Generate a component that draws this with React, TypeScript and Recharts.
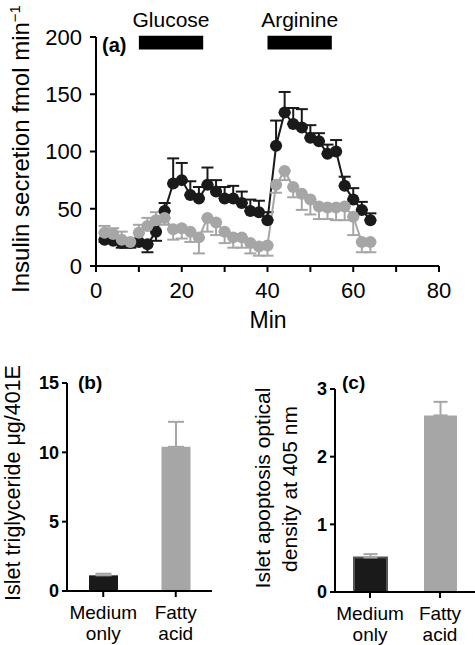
import {
  LineChart,
  Line,
  BarChart,
  Bar,
  Cell,
  XAxis,
  YAxis,
  ErrorBar,
  ReferenceArea,
} from 'recharts'

// (a) perifusion time course, sampled every 2 min
const minutes = [2, 4, 6, 8, 10, 12, 14, 16, 18, 20, 22, 24, 26, 28, 30, 32, 34, 36, 38, 40, 42, 44, 46, 48, 50, 52, 54, 56, 58, 60, 62, 64]
const mediumMean = [23, 22, 20, 20, 21, 19, 30, 48, 72, 75, 62, 59, 71, 65, 59, 59, 55, 48, 47, 40, 105, 134, 124, 121, 112, 109, 98, 100, 70, 58, 49, 40]
// [below, above] the mean
const mediumErr = [
  [2, 0], [2, 0], [4, 0], [4, 0], [2, 0], [7, 0], [8, 0], [0, 7], [0, 22], [0, 15], [0, 12], [0, 10], [0, 15], [0, 10], [0, 10], [0, 11],
  [0, 10], [0, 10], [0, 10], [0, 7], [0, 22], [0, 18], [0, 14], [0, 16], [0, 11], [0, 7], [0, 8], [0, 10], [0, 8], [0, 10], [0, 7], [0, 6],
]
const fattyMean = [29, 28, 23, 21, 29, 35, 40, 42, 32, 33, 30, 25, 42, 38, 30, 25, 25, 20, 17, 18, 71, 83, 69, 63, 58, 52, 51, 51, 52, 43, 21, 21]
const fattyErr = [
  [0, 6], [0, 5], [0, 7], [0, 0], [0, 7], [0, 7], [0, 7], [6, 0], [9, 0], [9, 0], [9, 0], [14, 0], [12, 0], [11, 0], [10, 0], [9, 0],
  [9, 0], [9, 0], [8, 0], [9, 0], [7, 0], [8, 0], [9, 0], [14, 0], [13, 0], [11, 0], [10, 0], [11, 0], [12, 0], [16, 0], [9, 0], [9, 0],
]
const minTicks = [0, 10, 20, 30, 40, 50, 60, 70, 80]
const insulinTicks = [0, 50, 100, 150, 200]

const treatments = ['Glucose', 'Arginine']
const treatmentStart = [10, 40]
const treatmentEnd = [25, 55]

// (b) and (c)
const groups = ['Medium only', 'Fatty acid']
const triglyceride = [1.13, 10.4]
const triglycerideErr = [0.12, 1.8]
const trigTicks = [0, 5, 10, 15]
const apoptosis = [0.51, 2.61]
const apoptosisErr = [0.05, 0.2]
const apoptosisTicks = [0, 1, 2, 3]

const FONT = "'Liberation Sans', Arial, Helvetica, sans-serif"
const BLACK = '#1a1a1a'
const GREY = '#a6a6a6'
const axisStyle = { stroke: '#000', strokeWidth: 2 }

function GroupTick({ x, y, payload }: any) {
  const [first, second] = String(payload.value).split(' ')
  return (
    <g>
      <text x={x} y={y + 20} textAnchor="middle" fontSize={19} fill="#000">{first}</text>
      <text x={x} y={y + 41} textAnchor="middle" fontSize={19} fill="#000">{second}</text>
    </g>
  )
}

export default function App() {
  const timeData = minutes.map((m, i) => ({
    min: m,
    medium: mediumMean[i],
    mediumErr: mediumErr[i],
    fatty: fattyMean[i],
    fattyErr: fattyErr[i],
  }))
  const trigData = groups.map((g, i) => ({ group: g, value: triglyceride[i], err: [0, triglycerideErr[i]] }))
  const apopData = groups.map((g, i) => ({ group: g, value: apoptosis[i], err: [0, apoptosisErr[i]] }))

  return (
    <div style={{ position: 'absolute', left: 0, top: 0, width: 475, height: 645, background: '#fff', fontFamily: FONT }}>
      <div style={{ position: 'absolute', left: 0, top: 0 }}>
        <LineChart width={475} height={340} data={timeData} margin={{ top: 37, right: 36, bottom: 0, left: 0 }}>
          <XAxis
            type="number"
            dataKey="min"
            domain={[0, 80]}
            ticks={minTicks}
            interval={0}
            height={74}
            tickFormatter={(v: number) => (v % 20 === 0 ? String(v) : '')}
            tick={{ fontSize: 22, fill: '#000' }}
            tickSize={6}
            tickMargin={10}
            axisLine={axisStyle}
            tickLine={axisStyle}
            label={() => (
              <text x={268} y={328} textAnchor="middle" fontSize={23} fill="#000">Min</text>
            )}
          />
          <YAxis
            domain={[0, 200]}
            ticks={insulinTicks}
            interval={0}
            width={96}
            tick={{ fontSize: 22, fill: '#000' }}
            tickSize={6}
            tickMargin={8}
            axisLine={axisStyle}
            tickLine={axisStyle}
            label={() => (
              <g>
                <text transform="rotate(-90)" x={-149} y={29} textAnchor="middle" fontSize={24} fill="#000">
                  Insulin secretion fmol min<tspan dy={-9} fontSize={15}>−1</tspan>
                </text>
                <text x={102} y={52} fontSize={20} fontWeight="bold" fill="#000">(a)</text>
              </g>
            )}
          />
          {treatments.map((t, i) => (
            <ReferenceArea
              key={t}
              x1={treatmentStart[i]}
              x2={treatmentEnd[i]}
              y1={189}
              y2={201}
              ifOverflow="visible"
              fill="#000"
              fillOpacity={1}
              stroke="none"
              label={{ value: t, position: 'top', offset: 9, fontSize: 21, fill: '#000' }}
            />
          ))}
          <Line
            dataKey="medium"
            stroke={BLACK}
            strokeWidth={2}
            dot={{ r: 6, fill: BLACK, stroke: 'none' }}
            activeDot={false}
            isAnimationActive={false}
          >
            <ErrorBar dataKey="mediumErr" direction="y" width={6} strokeWidth={2} stroke={BLACK} />
          </Line>
          <Line
            dataKey="fatty"
            stroke={GREY}
            strokeWidth={2}
            dot={{ r: 6, fill: GREY, stroke: 'none' }}
            activeDot={false}
            isAnimationActive={false}
          >
            <ErrorBar dataKey="fattyErr" direction="y" width={6} strokeWidth={2} stroke={GREY} />
          </Line>
        </LineChart>
      </div>

      <div style={{ position: 'absolute', left: 0, top: 340 }}>
        <BarChart width={235} height={305} data={trigData} margin={{ top: 43, right: 23, bottom: 0, left: 0 }}>
          <XAxis
            dataKey="group"
            height={54}
            interval={0}
            tick={(p: any) => <GroupTick {...p} />}
            tickSize={6}
            axisLine={axisStyle}
            tickLine={axisStyle}
          />
          <YAxis
            domain={[0, 15]}
            ticks={trigTicks}
            interval={0}
            width={67}
            tick={{ fontSize: 18, fontWeight: 'bold', fill: '#000' }}
            tickSize={5}
            tickMargin={3}
            axisLine={axisStyle}
            tickLine={axisStyle}
            label={() => (
              <g>
                <text transform="rotate(-90)" x={-143} y={20} textAnchor="middle" fontSize={21.5} fill="#000">
                  Islet triglyceride μg/401E
                </text>
                <text x={78} y={49} fontSize={19} fontWeight="bold" fill="#000">(b)</text>
              </g>
            )}
          />
          <Bar dataKey="value" barSize={29} isAnimationActive={false}>
            <Cell fill={BLACK} />
            <Cell fill={GREY} />
            <ErrorBar dataKey="err" direction="y" width={8} strokeWidth={2} stroke={GREY} />
          </Bar>
        </BarChart>
      </div>

      <div style={{ position: 'absolute', left: 235, top: 340 }}>
        <BarChart width={240} height={305} data={apopData} margin={{ top: 49, right: 0, bottom: 0, left: 0 }}>
          <XAxis
            dataKey="group"
            height={53}
            interval={0}
            tick={(p: any) => <GroupTick {...p} />}
            tickSize={6}
            axisLine={axisStyle}
            tickLine={axisStyle}
          />
          <YAxis
            domain={[0, 3]}
            ticks={apoptosisTicks}
            interval={0}
            width={100}
            tick={{ fontSize: 18, fontWeight: 'bold', fill: '#000' }}
            tickSize={5}
            tickMargin={3}
            axisLine={axisStyle}
            tickLine={axisStyle}
            label={() => (
              <g>
                <text transform="rotate(-90)" x={-148} y={35} textAnchor="middle" fontSize={21} fill="#000">
                  Islet apoptosis optical
                </text>
                <text transform="rotate(-90)" x={-149} y={62} textAnchor="middle" fontSize={21} fill="#000">
                  density at 405 nm
                </text>
                <text x={107} y={49} fontSize={19} fontWeight="bold" fill="#000">(c)</text>
              </g>
            )}
          />
          <Bar dataKey="value" barSize={33} isAnimationActive={false}>
            <Cell fill={BLACK} stroke="#555" strokeWidth={2} />
            <Cell fill={GREY} />
            <ErrorBar dataKey="err" direction="y" width={7} strokeWidth={2} stroke={GREY} />
          </Bar>
        </BarChart>
      </div>
    </div>
  )
}
